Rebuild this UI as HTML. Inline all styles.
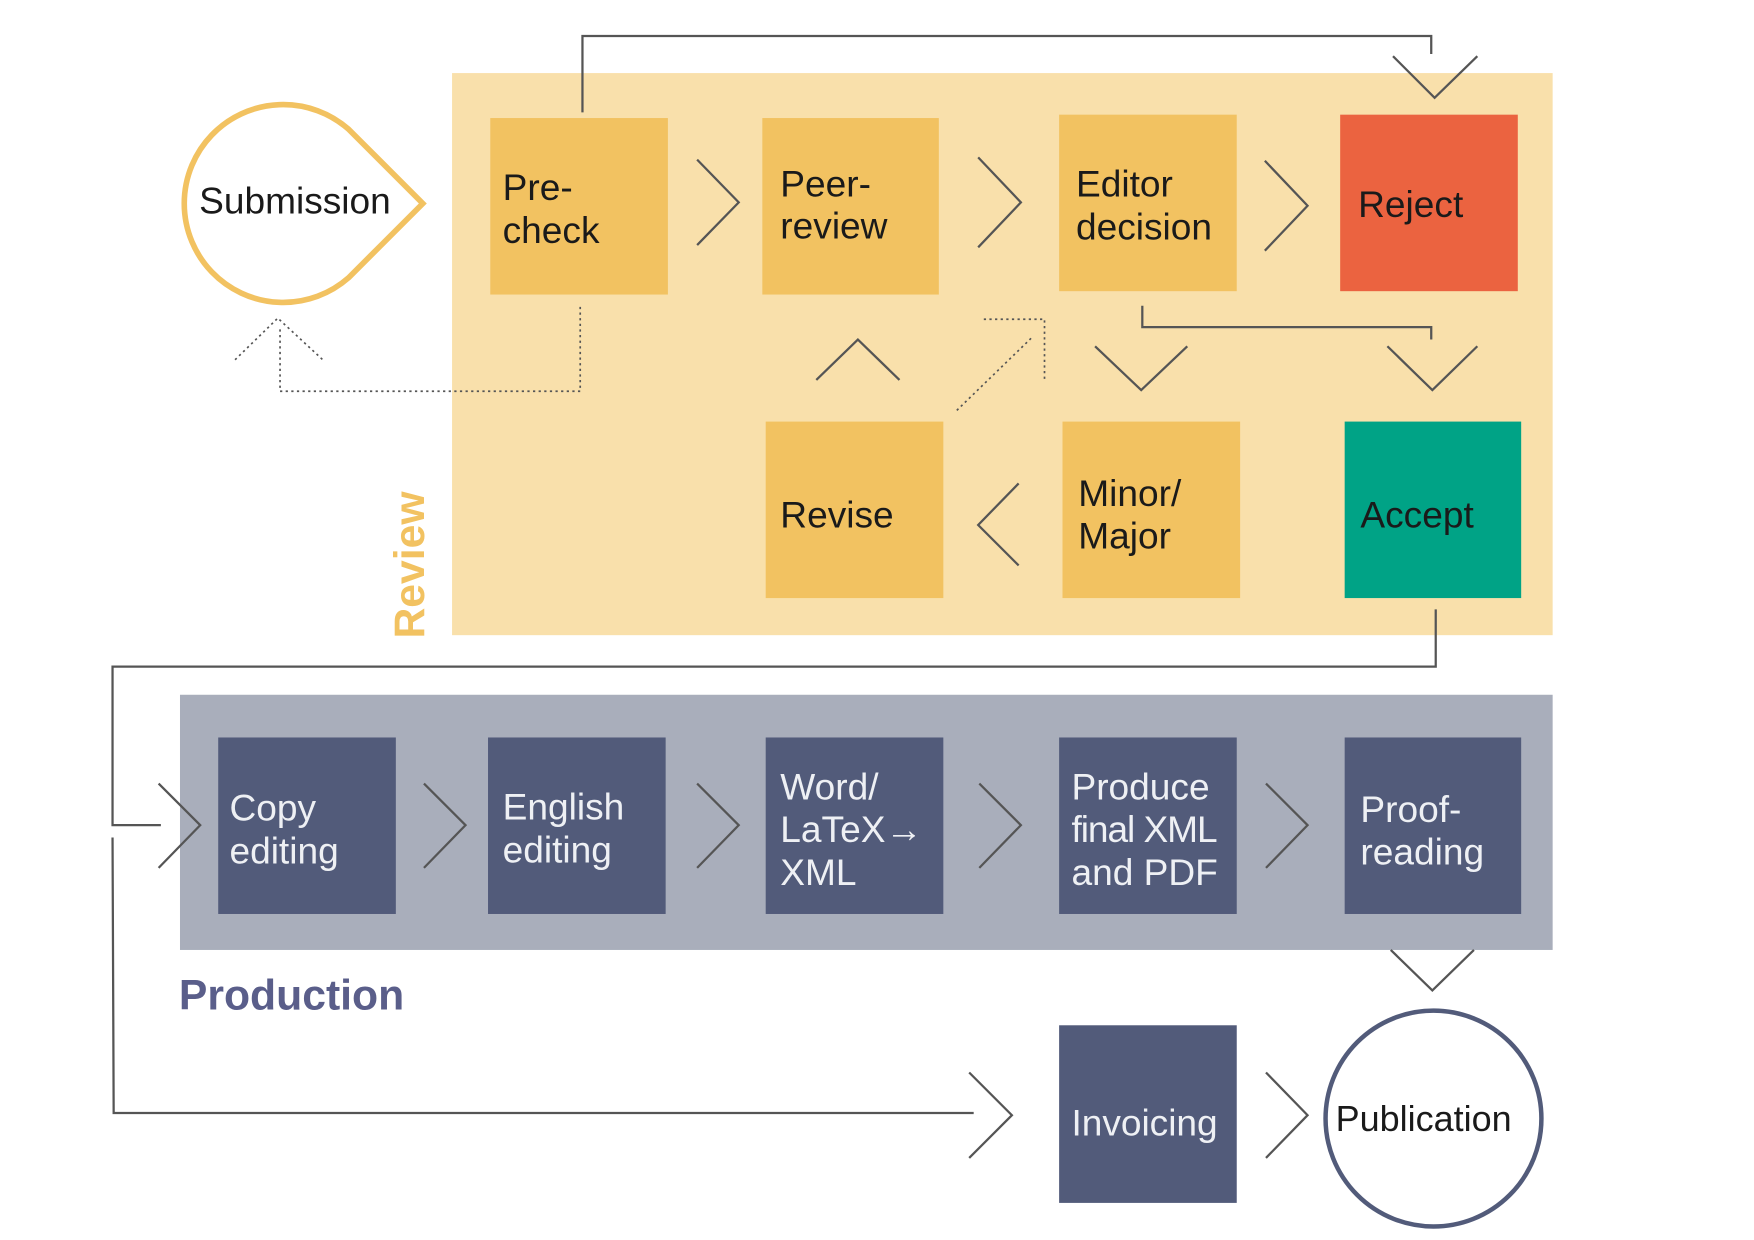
<!DOCTYPE html>
<html><head><meta charset="utf-8"><style>html,body{margin:0;padding:0;background:#fff}svg{display:block}</style></head>
<body>
<svg width="1754" height="1240" viewBox="0 0 1560 1103" xmlns="http://www.w3.org/2000/svg" font-family="Liberation Sans, sans-serif">
<rect x="402" y="65" width="979" height="500" fill="#f9e0ab"/>
<rect x="160" y="618" width="1221" height="227" fill="#a9aebb"/>
<g fill="#f2c261">
<rect x="436" y="105" width="158" height="157"/>
<rect x="678" y="105" width="157" height="157"/>
<rect x="942" y="102" width="158" height="157"/>
<rect x="681" y="375" width="158" height="157"/>
<rect x="945" y="375" width="158" height="157"/>
</g>
<rect x="1192" y="102" width="158" height="157" fill="#eb6340"/>
<rect x="1196" y="375" width="157" height="157" fill="#00a386"/>
<g fill="#525b7a">
<rect x="194" y="656" width="158" height="157"/>
<rect x="434" y="656" width="158" height="157"/>
<rect x="681" y="656" width="158" height="157"/>
<rect x="942" y="656" width="158" height="157"/>
<rect x="1196" y="656" width="157" height="157"/>
<rect x="942" y="912" width="158" height="158"/>
</g>
<circle cx="1275" cy="995" r="96" fill="#fff" stroke="#525b7a" stroke-width="4"/>
<path d="M 310 115 A 88 88 0 1 0 310 247 L 376 181 Z" fill="#fff" stroke="#f2c261" stroke-width="5" stroke-linejoin="miter"/>
<g fill="none" stroke="#555" stroke-width="2">
<polyline points="620,142 657,180 620,218"/>
<polyline points="870,140 908,180 870,220"/>
<polyline points="1125,143 1163,183 1125,223"/>
<polyline points="141,697 178,734 141,772"/>
<polyline points="377,697 414,734 377,772"/>
<polyline points="620,697 657,734 620,772"/>
<polyline points="871,697 908,734 871,772"/>
<polyline points="1126,697 1163,734 1126,772"/>
<polyline points="862,954 900,992 862,1030"/>
<polyline points="1126,954 1163,992 1126,1030"/>
<polyline points="906,430 870,467 906,503"/>
<polyline points="726,338 763,302 800,338"/>
<polyline points="974,308 1015,347 1056,308"/>
<polyline points="1234,308 1274,347 1314,308"/>
<polyline points="1239,50 1276,87 1314,50"/>
<polyline points="1237,845 1274,881 1311,845"/>
<polyline points="518,100 518,32 1273,32 1273,48"/>
<polyline points="1016,272 1016,291 1273,291 1273,302"/>
<polyline points="1277,542 1277,593 100,593 100,734 143,734"/>
<polyline points="100,745 101,990 866,990"/>
</g>
<g fill="none" stroke="#555" stroke-width="1.5" stroke-dasharray="2,3">
<polyline points="516,273 516,348 249,348 249,290"/>
<polyline points="209,320 247,283 287,320"/>
<line x1="851" y1="365" x2="918" y2="300"/>
<polyline points="875,284 929,284 929,340"/>
</g>
<g font-size="33" fill="#1a1a1a">
<text x="177" y="190">Submission</text>
<text x="447" y="178">Pre-</text><text x="447" y="216">check</text>
<text x="694" y="175">Peer-</text><text x="694" y="212">review</text>
<text x="957" y="175">Editor</text><text x="957" y="213">decision</text>
<text x="1208" y="193">Reject</text>
<text x="694" y="469">Revise</text>
<text x="959" y="450">Minor/</text><text x="959" y="488">Major</text>
<text x="1210" y="469">Accept</text>
<text x="1188" y="1006" font-size="32">Publication</text>
</g>
<g font-size="33" fill="#eef0f4">
<text x="204" y="730">Copy</text><text x="204" y="768">editing</text>
<text x="447" y="729">English</text><text x="447" y="767">editing</text>
<text x="694" y="711">Word/</text><text x="694" y="749">LaTeX→</text><text x="694" y="787">XML</text>
<text x="953" y="711">Produce</text><text x="953" y="749" textLength="130">final XML</text><text x="953" y="787">and PDF</text>
<text x="1210" y="731">Proof-</text><text x="1210" y="769">reading</text>
<text x="953" y="1010" textLength="130">Invoicing</text>
</g>
<text transform="translate(377,568) rotate(-90)" font-size="38" font-weight="bold" fill="#f2c261">Review</text>
<text x="159" y="898" font-size="38" font-weight="bold" fill="#5a5e8a">Production</text>
</svg>
</body></html>
